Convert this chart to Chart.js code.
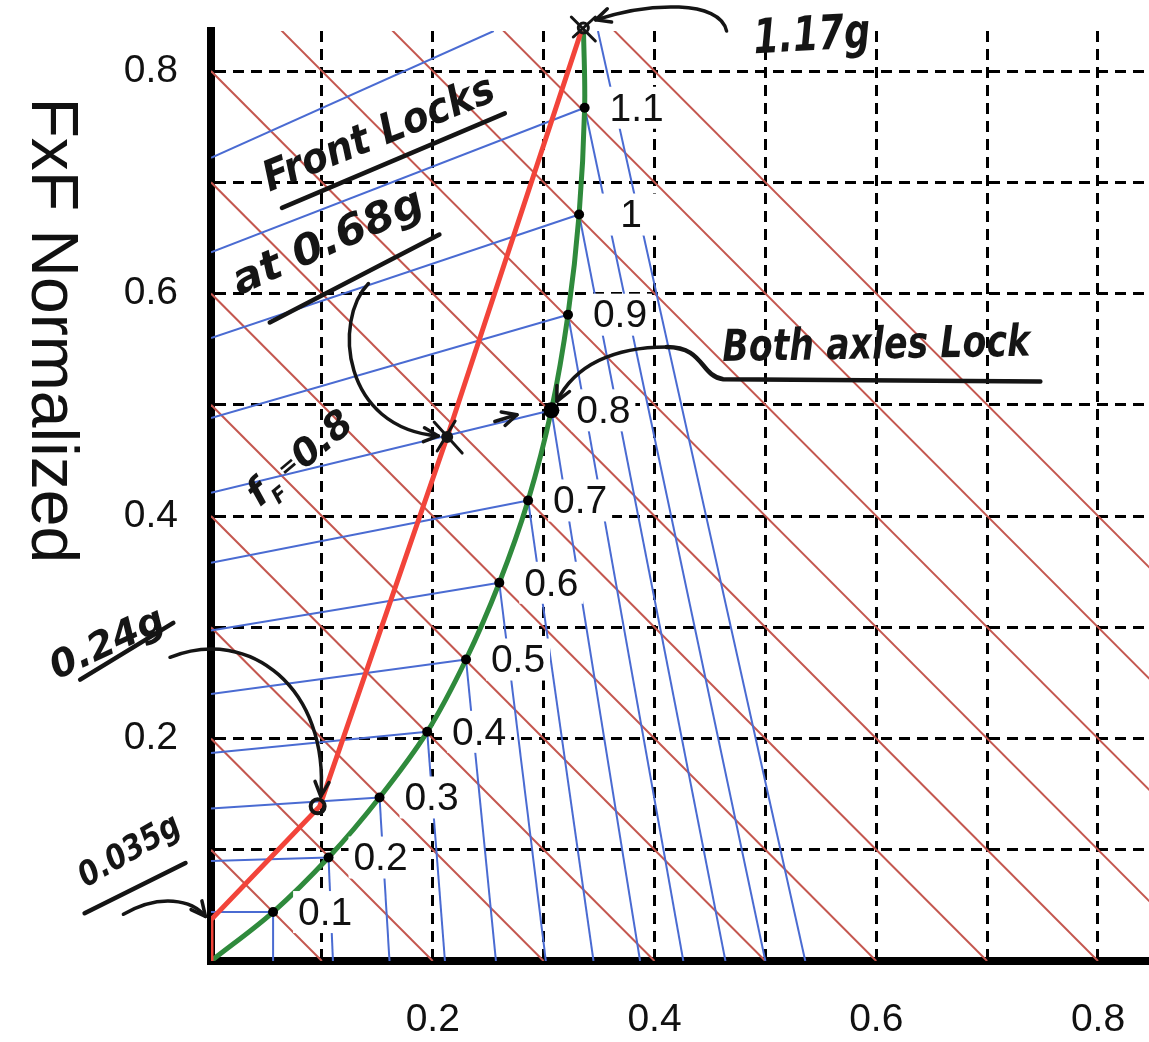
<!DOCTYPE html>
<html>
<head>
<meta charset="utf-8">
<script src="https://cdn.jsdelivr.net/npm/chart.js@4.4.1/dist/chart.umd.min.js"></script>
<style>
html,body{margin:0;padding:0;background:#ffffff;}
canvas{display:block;}
</style>
</head>
<body>
<canvas id="c" width="1149" height="1042"></canvas>
<script>
// ---------------- DATA ----------------
// constant-deceleration lines  FxR + FxF = g
const decelLevels = [0.1, 0.2, 0.3, 0.4, 0.5, 0.6, 0.7, 0.8, 0.9, 1.0, 1.1, 1.2];

// ideal (both axles lock) curve: rear (x) and front (y) normalized forces
const idealG      = [0, 0.1, 0.2, 0.3, 0.4, 0.5, 0.6, 0.7, 0.8, 0.9, 1.0, 1.1, 1.17];
const idealRear   = [0, 0.056, 0.106, 0.152, 0.195, 0.230, 0.260, 0.286, 0.307, 0.322, 0.332, 0.337, 0.336];
const idealFront  = [0, 0.044, 0.093, 0.147, 0.206, 0.271, 0.340, 0.414, 0.495, 0.581, 0.671, 0.767, 0.836];
const idealLabels = ['', '0.1', '0.2', '0.3', '0.4', '0.5', '0.6', '0.7', '0.8', '0.9', '1', '1.1', ''];

// friction levels of the lock lines
const lockMu = [0.1, 0.2, 0.3, 0.4, 0.5, 0.6, 0.7, 0.8, 0.9, 1.0, 1.1, 1.2];
// front-lock lines: from the y axis to the ideal curve
const frontLockStartY = [0.044, 0.090, 0.137, 0.187, 0.240, 0.297, 0.358, 0.421, 0.488, 0.560, 0.637, 0.722];
const frontLockEndX   = [0.056, 0.106, 0.152, 0.195, 0.230, 0.260, 0.286, 0.307, 0.322, 0.332, 0.337, 0.255];
const frontLockEndY   = [0.044, 0.093, 0.147, 0.206, 0.271, 0.340, 0.414, 0.495, 0.581, 0.671, 0.767, 0.836];
// rear-lock lines: from the ideal curve down to the x axis
const rearLockStartX  = [0.056, 0.106, 0.152, 0.195, 0.230, 0.260, 0.286, 0.307, 0.322, 0.332, 0.337, 0.349];
const rearLockStartY  = [0.044, 0.093, 0.147, 0.206, 0.271, 0.340, 0.414, 0.495, 0.581, 0.671, 0.767, 0.836];
const rearLockEndX    = [0.056, 0.110, 0.161, 0.211, 0.257, 0.302, 0.345, 0.387, 0.426, 0.464, 0.500, 0.536];

// installed brake distribution (red)
const brakeRear  = [0, 0, 0.098, 0.213, 0.334];
const brakeFront = [0, 0.037, 0.139, 0.471, 0.836];

// axis ticks
const xTickLabels = [0.2, 0.4, 0.6, 0.8];
const yTickLabels = [0.2, 0.4, 0.6, 0.8];
const yTitle = 'FxF Normalized';

// ---------------- STYLE ----------------
const C = {
  decel: '#c4574f',
  blue: '#4a6bd2',
  brake: '#f2443a',
  ideal: '#2f8a3c',
  ink: '#151515'
};

// ---------------- DATASETS ----------------
const datasets = [];
decelLevels.forEach(g => {
  datasets.push({data: [{x: 0, y: g}, {x: g, y: 0}], showLine: true, borderColor: C.decel,
    borderWidth: 2, pointRadius: 0, order: 6});
});
lockMu.forEach((m, i) => {
  datasets.push({data: [{x: 0, y: frontLockStartY[i]}, {x: frontLockEndX[i], y: frontLockEndY[i]}],
    showLine: true, borderColor: C.blue, borderWidth: 2, pointRadius: 0, order: 5});
  datasets.push({data: [{x: rearLockStartX[i], y: rearLockStartY[i]}, {x: rearLockEndX[i], y: 0}],
    showLine: true, borderColor: C.blue, borderWidth: 2, pointRadius: 0, order: 5});
});
datasets.push({data: idealRear.map((x, i) => ({x, y: idealFront[i]})), showLine: true,
  borderColor: C.ideal, borderWidth: 5, pointRadius: 0, tension: 0.35, order: 3});
datasets.push({data: brakeRear.map((x, i) => ({x, y: brakeFront[i]})), showLine: true,
  borderColor: C.brake, borderWidth: 5, pointRadius: 0, tension: 0, order: 2});
const dotIdx = idealG.map((g, i) => i).filter(i => idealLabels[i] !== '');
datasets.push({data: dotIdx.map(i => ({x: idealRear[i], y: idealFront[i]})), showLine: false,
  pointRadius: dotIdx.map(i => idealG[i] === 0.8 ? 8 : 5), pointBackgroundColor: '#000',
  pointBorderWidth: 0, order: 1});

// ---------------- ANNOTATIONS (handwritten notes, placed in data units) ----------------
const notes = [
  {text: 'Front Locks', x: 0.152, y: 0.742, angle: -22, size: 42, width: 246},
  {text: 'at 0.68g', x: 0.106, y: 0.645, angle: -24, size: 42, width: 205},
  {text: 'Both axles Lock', x: 0.600, y: 0.552, angle: -1, size: 44, width: 308},
  {text: '0.24g', x: -0.093, y: 0.284, angle: -25, size: 38, width: 122},
  {text: '0.035g', x: -0.073, y: 0.098, angle: -30, size: 34, width: 112},
  {text: '1.17g', x: 0.542, y: 0.830, angle: -3, size: 48, width: 117}
];
const underlines = [
  [[0.064, 0.677], [0.265, 0.762]],
  [[0.053, 0.574], [0.206, 0.653]],
  [[-0.118, 0.253], [-0.034, 0.304]],
  [[-0.114, 0.043], [-0.023, 0.088]]
];
const arrows = [
  // [start, c1, c2, end]
  [[0.142, 0.609], [0.110, 0.576], [0.118, 0.479], [0.205, 0.472]],
  [[-0.037, 0.273], [0.035, 0.302], [0.107, 0.244], [0.099, 0.148]],
  [[-0.079, 0.042], [-0.046, 0.061], [-0.017, 0.055], [-0.005, 0.040]],
  [[0.465, 0.836], [0.459, 0.864], [0.396, 0.862], [0.347, 0.846]],
  [[0.256, 0.485], [0.262, 0.487], [0.269, 0.489], [0.276, 0.491]]
];
// "Both axles Lock" underline that turns into an arrow to the 0.8 point
const bothPath = [[0.748, 0.521], [0.462, 0.523], [0.441, 0.526], [0.445, 0.552], [0.411, 0.552],
                  [0.364, 0.552], [0.328, 0.536], [0.312, 0.503]];
const ffNote = {x: 0.080, y: 0.452, angle: -40, size: 38};

const notesPlugin = {
  id: 'notes',
  afterDatasetsDraw(chart) {
    const ctx = chart.ctx, xs = chart.scales.x, ys = chart.scales.y;
    const X = v => xs.getPixelForValue(v), Y = v => ys.getPixelForValue(v);
    // point labels with white boxes
    ctx.save();
    ctx.font = '39px "Liberation Sans", Arial, sans-serif';
    ctx.textAlign = 'center';
    ctx.textBaseline = 'middle';
    idealLabels.forEach((lab, i) => {
      if (!lab) return;
      const px = X(idealRear[i]) + 52, py = Y(idealFront[i]);
      ctx.fillStyle = '#ffffff';
      ctx.fillRect(px - 32, py - 21, 64, 42);
      ctx.fillStyle = '#111';
      ctx.fillText(lab, px, py + 2);
    });
    ctx.restore();
  },
  afterDraw(chart) {
    const ctx = chart.ctx, xs = chart.scales.x, ys = chart.scales.y;
    const X = v => xs.getPixelForValue(v), Y = v => ys.getPixelForValue(v);
    ctx.save();
    // y axis title (reads top to bottom)
    ctx.translate(50, Y(0.567));
    ctx.rotate(Math.PI / 2);
    ctx.font = '66px "Liberation Sans", Arial, sans-serif';
    ctx.fillStyle = '#111';
    ctx.textAlign = 'center';
    ctx.textBaseline = 'middle';
    ctx.fillText(yTitle, 0, 0);
    ctx.restore();

    ctx.save();
    ctx.strokeStyle = C.ink; ctx.fillStyle = C.ink;
    ctx.lineCap = 'round'; ctx.lineJoin = 'round';
    // notes
    notes.forEach(n => {
      ctx.save();
      ctx.translate(X(n.x), Y(n.y));
      ctx.rotate(n.angle * Math.PI / 180);
      ctx.font = 'italic bold ' + n.size + 'px "DejaVu Sans", sans-serif';
      const w = ctx.measureText(n.text).width;
      ctx.scale(n.width / w, 1);
      ctx.textAlign = 'center'; ctx.textBaseline = 'middle';
      ctx.fillText(n.text, 0, 0);
      ctx.restore();
    });
    // f_F = 0.8
    ctx.save();
    ctx.translate(X(ffNote.x), Y(ffNote.y));
    ctx.rotate(ffNote.angle * Math.PI / 180);
    ctx.textBaseline = 'alphabetic';
    const f1 = 'italic bold ' + ffNote.size + 'px "DejaVu Sans", sans-serif';
    const f2 = 'italic bold ' + Math.round(ffNote.size * 0.55) + 'px "DejaVu Sans", sans-serif';
    const f3 = 'italic bold ' + Math.round(ffNote.size * 0.6) + 'px "DejaVu Sans", sans-serif';
    ctx.font = f1; const wf = ctx.measureText('f').width; const w08 = ctx.measureText('0.8').width;
    ctx.font = f2; const wF = ctx.measureText('F').width;
    ctx.font = f3; const weq = ctx.measureText(' =').width;
    let sx = -(wf + wF + weq + w08) / 2;
    ctx.font = f1; ctx.fillText('f', sx, 12); sx += wf;
    ctx.font = f2; ctx.fillText('F', sx, 22); sx += wF;
    ctx.font = f3; ctx.fillText(' =', sx, 6); sx += weq;
    ctx.font = f1; ctx.fillText('0.8', sx, 12);
    ctx.restore();

    ctx.lineWidth = 4.5;
    underlines.forEach(u => {
      ctx.beginPath();
      ctx.moveTo(X(u[0][0]), Y(u[0][1]));
      ctx.lineTo(X(u[1][0]), Y(u[1][1]));
      ctx.stroke();
    });
    const head = (x1, y1, x2, y2, len) => {
      const a = Math.atan2(y2 - y1, x2 - x1);
      ctx.beginPath();
      ctx.moveTo(x2 - len * Math.cos(a - 0.45), y2 - len * Math.sin(a - 0.45));
      ctx.lineTo(x2, y2);
      ctx.lineTo(x2 - len * Math.cos(a + 0.45), y2 - len * Math.sin(a + 0.45));
      ctx.stroke();
    };
    ctx.lineWidth = 3.5;
    arrows.forEach(a => {
      const p = a.map(q => [X(q[0]), Y(q[1])]);
      ctx.beginPath();
      ctx.moveTo(p[0][0], p[0][1]);
      ctx.bezierCurveTo(p[1][0], p[1][1], p[2][0], p[2][1], p[3][0], p[3][1]);
      ctx.stroke();
      head(p[2][0], p[2][1], p[3][0], p[3][1], 16);
    });
    // Both axles lock path
    const bp = bothPath.map(q => [X(q[0]), Y(q[1])]);
    ctx.lineWidth = 4.5;
    ctx.beginPath();
    ctx.moveTo(bp[0][0], bp[0][1]);
    ctx.lineTo(bp[1][0], bp[1][1]);
    ctx.bezierCurveTo(bp[2][0], bp[2][1], bp[3][0], bp[3][1], bp[4][0], bp[4][1]);
    ctx.stroke();
    ctx.lineWidth = 3.5;
    ctx.beginPath();
    ctx.moveTo(bp[4][0], bp[4][1]);
    ctx.bezierCurveTo(bp[5][0], bp[5][1], bp[6][0], bp[6][1], bp[7][0], bp[7][1]);
    ctx.stroke();
    head(bp[6][0], bp[6][1], bp[7][0], bp[7][1], 16);

    // markers on the brake line
    const knee = [X(brakeRear[2]), Y(brakeFront[2])];
    const lock = [X(brakeRear[3]), Y(brakeFront[3])];
    const top = [X(brakeRear[4]), Y(brakeFront[4])];
    ctx.lineWidth = 4;
    ctx.beginPath(); ctx.arc(knee[0] - 2, knee[1], 7, 0, Math.PI * 2); ctx.stroke();
    ctx.beginPath(); ctx.arc(lock[0], lock[1], 6, 0, Math.PI * 2); ctx.fill();
    ctx.lineWidth = 3;
    ctx.beginPath();
    ctx.moveTo(lock[0] - 13, lock[1] - 15); ctx.lineTo(lock[0] + 15, lock[1] + 16);
    ctx.moveTo(lock[0] - 10, lock[1] + 14); ctx.lineTo(lock[0] + 8, lock[1] - 16);
    ctx.stroke();
    ctx.beginPath(); ctx.arc(top[0] + 2, top[1] - 3, 5, 0, Math.PI * 2); ctx.stroke();
    ctx.beginPath();
    ctx.moveTo(top[0] - 10, top[1] - 14); ctx.lineTo(top[0] + 14, top[1] + 10);
    ctx.moveTo(top[0] - 8, top[1] + 6); ctx.lineTo(top[0] + 14, top[1] - 14);
    ctx.stroke();
    ctx.restore();
  }
};

const fmt = (v, list) => {
  const r = Math.round(v * 10) / 10;
  return list.some(t => Math.abs(t - r) < 1e-9) && Math.abs(v - r) < 1e-6 ? r.toFixed(1) : '';
};

const tickFont = {family: '"Liberation Sans", Arial, sans-serif', size: 39};
const noPad = s => { s.paddingTop = 0; s.paddingBottom = 0; s.paddingLeft = 0; s.paddingRight = 0; };

new Chart(document.getElementById('c'), {
  type: 'scatter',
  data: {datasets},
  options: {
    responsive: false,
    animation: false,
    devicePixelRatio: 1,
    events: [],
    layout: {autoPadding: false, padding: {top: 31, right: 0, left: 0, bottom: 0}},
    plugins: {legend: {display: false}, tooltip: {enabled: false}},
    scales: {
      x: {
        type: 'linear', min: 0, max: 0.846,
        afterFit(s) { s.height = 81; noPad(s); },
        ticks: {stepSize: 0.1, autoSkip: false, maxRotation: 0, minRotation: 0, includeBounds: false,
          padding: 36, color: '#111', font: tickFont, callback: v => fmt(v, xTickLabels)},
        grid: {color: '#000', lineWidth: 3, drawTicks: false},
        border: {display: true, color: '#000', width: 8, dash: [11, 7]}
      },
      y: {
        type: 'linear', min: 0, max: 0.836,
        afterFit(s) { s.width = 211; noPad(s); },
        ticks: {stepSize: 0.1, autoSkip: false, includeBounds: false,
          padding: 33, color: '#111', font: tickFont, callback: v => fmt(v, yTickLabels)},
        grid: {color: '#000', lineWidth: 3, drawTicks: false},
        border: {display: true, color: '#000', width: 8, dash: [11, 7]}
      }
    }
  },
  plugins: [notesPlugin]
});
</script>
</body>
</html>
